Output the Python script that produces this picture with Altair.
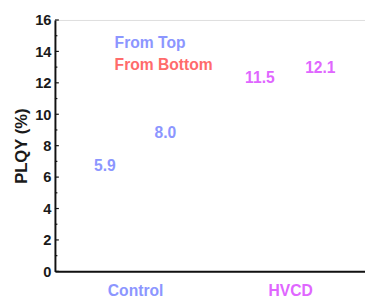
import json
import altair as alt
import pandas as pd

# ---- data ----
categories = ["Control", "Control", "HVCD", "HVCD"]
series = ["From Top", "From Bottom", "From Top", "From Bottom"]
values = [5.9, 8.0, 11.5, 12.1]

category_order = ["Control", "HVCD"]
series_order = ["From Top", "From Bottom"]
major_ticks = [0, 2, 4, 6, 8, 10, 12, 14, 16]
minor_ticks = [1, 3, 5, 7, 9, 11, 13, 15]

df = pd.DataFrame({"cat": categories, "series": series, "value": values})
df["label"] = [f"{v:.1f}" for v in values]
major_df = pd.DataFrame({"v": major_ticks})
minor_df = pd.DataFrame({"v": minor_ticks})

BLUE = "#8c96ff"
RED = "#ff6b6b"
MAGENTA = "#e066ff"
FONT = "Liberation Sans"
GROUP_SPREAD = 0.39  # distance between the two series inside a group (in category units)

cat_list = json.dumps(category_order)
ser_list = json.dumps(series_order)

y_scale = alt.Scale(domain=[0, 16], nice=False, zero=True)
y_axis = alt.Axis(
    values=major_ticks, ticks=False, grid=False,
    domainColor="#111111", domainWidth=2,
    labelFont=FONT, labelFontSize=15, labelFontWeight="bold", labelColor="#1a1a1a",
    labelPadding=4,
    title="PLQY (%)", titleFont=FONT, titleFontSize=17, titleFontWeight="bold",
    titleColor="#1a1a1a", titlePadding=4,
)
x_scale = alt.Scale(domain=[-0.517, 1.483], nice=False, zero=False)
x_axis = alt.Axis(
    title=None, ticks=False, grid=False, labelAngle=0,
    values=list(range(len(category_order))),
    labelExpr=f"{cat_list}[datum.value]",
    domainColor="#111111", domainWidth=2,
    labelFont=FONT, labelFontSize=16, labelFontWeight="bold", labelPadding=12,
    labelFlush=False, labelOverlap=False,
    labelColor={"condition": {"test": "datum.value === 0", "value": BLUE}, "value": MAGENTA},
)

base = alt.Chart(df).transform_calculate(
    ci=f"indexof({cat_list}, datum.cat)",
    si=f"indexof({ser_list}, datum.series)",
).transform_calculate(
    xpos=f"datum.ci + (datum.si - 0.5) * {GROUP_SPREAD}"
)

texts = base.mark_text(font=FONT, fontSize=16, fontWeight="bold", baseline="middle", dy=-13).encode(
    x=alt.X("xpos:Q", scale=x_scale, axis=x_axis),
    y=alt.Y("value:Q", scale=y_scale, axis=y_axis),
    text="label:N",
    color=alt.Color("cat:N", scale=alt.Scale(domain=category_order, range=[BLUE, MAGENTA]), legend=None),
)

legend_pts = base.mark_point(opacity=0).encode(
    x=alt.X("xpos:Q", scale=x_scale, axis=x_axis),
    y=alt.Y("value:Q", scale=y_scale, axis=y_axis),
    color=alt.Color(
        "series:N",
        scale=alt.Scale(domain=series_order, range=[BLUE, RED]),
        legend=alt.Legend(
            title=None, orient="none", legendX=45, legendY=16, direction="vertical",
            symbolOpacity=0, symbolSize=0, symbolStrokeWidth=0, labelOffset=0,
            labelFont=FONT, labelFontSize=16, labelFontWeight="bold", rowPadding=6,
            labelColor={"expr": "datum.label === 'From Top' ? '%s' : '%s'" % (BLUE, RED)},
        ),
    ),
)

major = alt.Chart(major_df).mark_rule(color="#111111", strokeWidth=1.2).encode(
    y=alt.Y("v:Q", scale=y_scale, axis=y_axis),
    x=alt.value(0), x2=alt.value(4),
)
minor = alt.Chart(minor_df).mark_rule(color="#111111", strokeWidth=1.2).encode(
    y=alt.Y("v:Q", scale=y_scale, axis=y_axis),
    x=alt.value(0), x2=alt.value(2.5),
)

chart = alt.layer(major, minor, legend_pts, texts).resolve_scale(color="independent").properties(
    width=317, height=257,
    autosize=alt.AutoSizeParams(type="none"),
    padding={"left": 48, "top": 9, "right": 0, "bottom": 25},
).configure_view(strokeWidth=0).configure(background="white")

chart.save("out.html", embed_options={"renderer": "svg", "actions": False})
